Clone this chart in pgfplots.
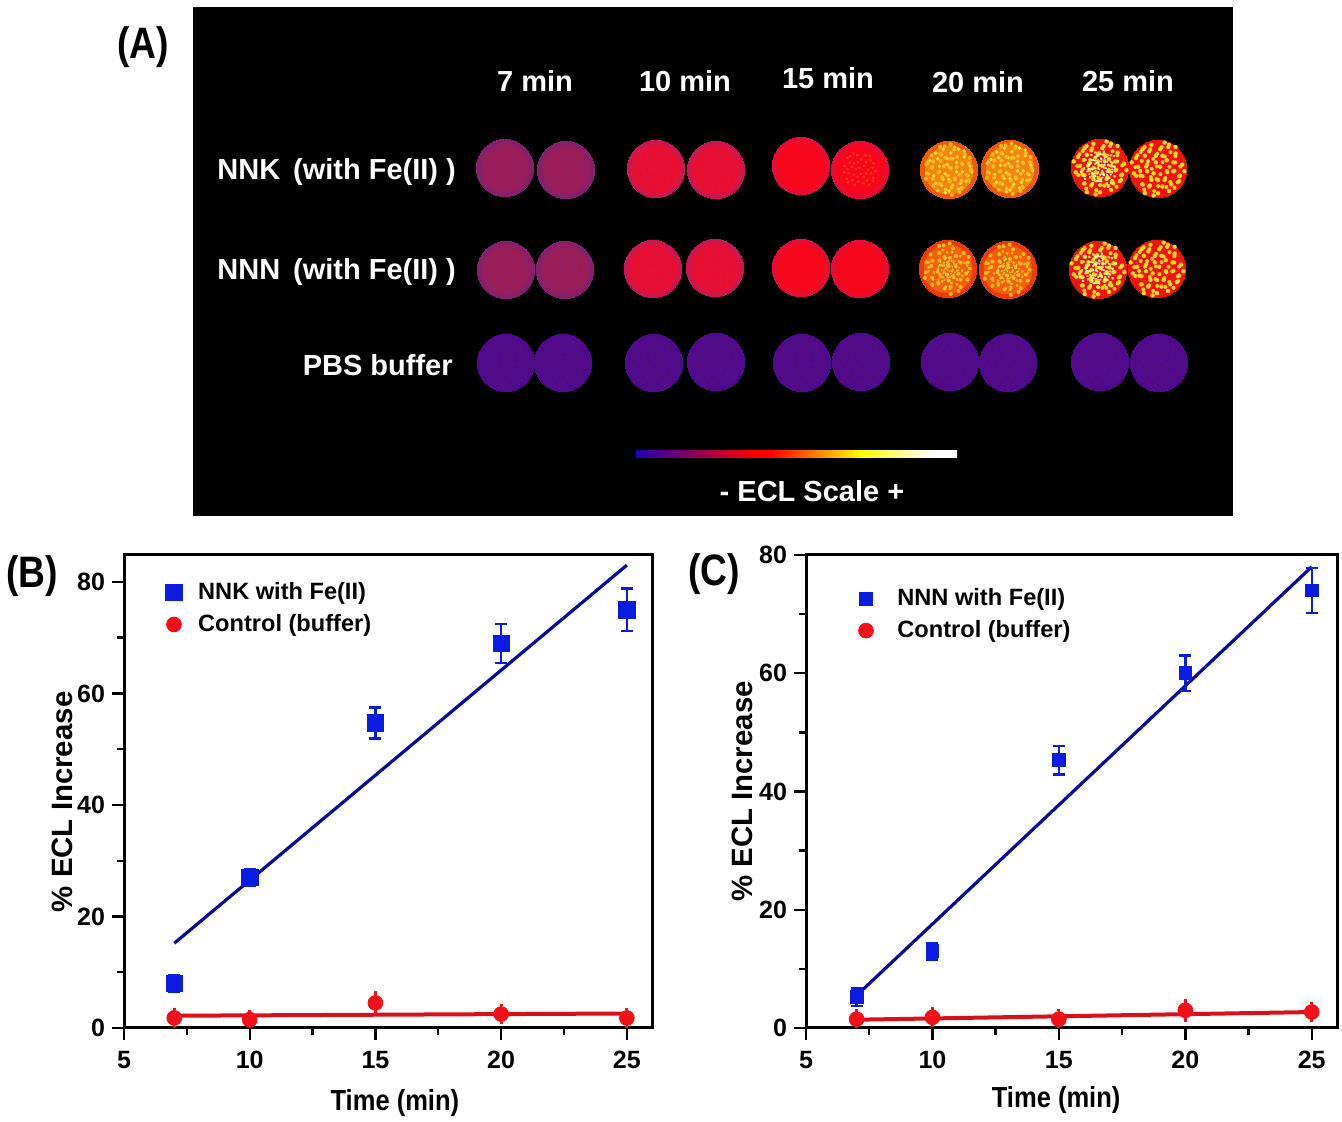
\documentclass[border=0pt]{standalone}
\usepackage{fontspec}
\setmainfont{Liberation Sans}
\usepackage{pgfplots}
\pgfplotsset{compat=1.18}

\definecolor{markblue}{HTML}{0A1CE0}
\definecolor{fitblue}{HTML}{0A0A9C}
\definecolor{markred}{HTML}{F0101A}
\definecolor{fitred}{HTML}{D8101A}
\definecolor{scaleblue}{HTML}{2000B0}

% heat map colours of panel A
\definecolor{sevenedge}{HTML}{86206C}
\definecolor{sevenmid}{HTML}{961E5C}
\definecolor{sevenhot}{HTML}{AC1A4C}
\definecolor{tenedge}{HTML}{CC1650}
\definecolor{tenmid}{HTML}{E41036}
\definecolor{tenhot}{HTML}{F20A26}
\definecolor{fifedge}{HTML}{E80C34}
\definecolor{fifmid}{HTML}{F8061C}
\definecolor{fifhot}{HTML}{F83A10}
\definecolor{twentybase}{HTML}{EE5A0C}
\definecolor{twentymid}{HTML}{F28410}
\definecolor{twentybaseb}{HTML}{EC3A0A}
\definecolor{twentymidb}{HTML}{F0600C}
\definecolor{twentyhot}{HTML}{F8B820}
\definecolor{twentypale}{HTML}{FCE040}
\definecolor{hotbase}{HTML}{EE1408}
\definecolor{hotyellow}{HTML}{FCD820}
\definecolor{hotpale}{HTML}{FFF890}
\definecolor{pbsbase}{HTML}{500A8C}
\definecolor{pbsspeck}{HTML}{5E0C78}

% colour scale of panel A
\pgfdeclarehorizontalshading{eclscale}{100bp}{
  color(0bp)=(scaleblue); color(25bp)=(scaleblue);
  color(43.5bp)=(red); color(46bp)=(red); color(60bp)=(yellow);
  color(71bp)=(white); color(100bp)=(white)}

% fixed speckle inside a spot, in pt around the centre
\pgfdeclareplotmark{speck}{%
  \foreach \sx/\sy in {-10/5,-8/-3,-7/9,-5/2,-4/-8,-3/11,-2/-2,-1/6,0/-11,1/1,
    1/9,3/-5,4/4,5/-10,5/11,7/-1,8/7,9/-6,11/2,-11/-2,-6/-11,2/-8,-6/6,-3/-5,
    4/-1,7/3,-9/1,-1/3,2/6,6/-7,10/-3,-4/8,-12/3,0/-5,-7/-7,3/12,-2/-12,8/10,
    12/-1,-5/-1}{%
    \pgfpathcircle{\pgfpoint{\sx pt}{\sy pt}}{1pt}%
    \pgfusepathqfill}%
}

\pgfplotsset{
  spot/.style={only marks, mark=*, mark size=14.3pt, mark options={draw=#1, line width=0pt, fill=#1}},
  glow/.style={only marks, mark=*, mark size=12pt, mark options={draw=#1, line width=0pt, fill=#1}},
  specks/.style n args={3}{only marks, mark=speck,
    mark options={draw=none, fill=#1, rotate=#2, scale=#3}},
  panel/.style={
    scale only axis, anchor=south west, xmin=5, xmax=26, ymin=0,
    xtick={5,10,15,20,25}, minor x tick num=1, minor y tick num=1,
    xtick pos=bottom, ytick pos=left, tick align=outside,
    axis line style={line width=1.5pt},
    tick style={line width=1.2pt, black},
    major tick length=6pt, minor tick length=3.75pt,
    /pgf/number format/assume math mode=true,
    tick label style={font=\fontsize{12.5}{15}\selectfont\bfseries},
    x tick label style={yshift=-2pt},
    xlabel={Time (min)}, ylabel={\% ECL Increase},
    legend cell align=left,
    legend style={draw=none, fill=none, row sep=2pt,
      font=\fontsize{11.8}{14}\selectfont\bfseries, anchor=north west},
  },
  fitline/.style={line width=#1, no marks, forget plot},
  sq/.style={only marks, mark=square*, mark size=#1, color=markblue,
    mark options={fill=markblue, draw=markblue},
    error bars/y dir=both, error bars/y explicit,
    error bars/error bar style={line width=1.2pt, markblue},
    error bars/error mark options={rotate=90, mark size=3pt, line width=1.2pt, markblue}},
  ci/.style={only marks, mark=*, mark size=3.7pt, color=markred,
    mark options={fill=markred, draw=markred},
    error bars/y dir=both, error bars/y explicit,
    error bars/error bar style={line width=1.2pt, markred},
    error bars/error mark options={rotate=90, mark size=.8pt, line width=1pt, markred}},
}

\begin{document}
\begin{tikzpicture}
\path[use as bounding box] (0,0) rectangle (671pt,561pt);

% panel A, in image pixels
\begin{axis}[
  at={(0,0)}, anchor=south west, scale only axis, width=671pt, height=561pt,
  xmin=0, xmax=1342, ymin=0, ymax=1122, y dir=reverse, hide axis, clip=false]
  \fill[black] (axis cs:193,7) rectangle (axis cs:1233,516);
  \shade[shading=eclscale] (axis cs:636,451) rectangle (axis cs:957,458);

  % 7 min
  \addplot[spot=sevenedge] coordinates {(505,168)(566,170)(506,270)(565,270)};
  \addplot[glow=sevenmid] coordinates {(505,168)(566,170)(506,270)(565,270)};
  \addplot[specks={sevenhot}{0}{.8}] coordinates {(505,168)(566,170)(506,270)(565,270)};
  % 10 min
  \addplot[spot=tenedge] coordinates {(656,169)(716,170)(653,269)(715,268)};
  \addplot[glow=tenmid] coordinates {(656,169)(716,170)(653,269)(715,268)};
  \addplot[specks={tenhot}{25}{.9}] coordinates {(656,169)(716,170)(653,269)(715,268)};
  % 15 min
  \addplot[spot=fifedge] coordinates {(801,166)(860,170)(801,268)(860,269)};
  \addplot[glow=fifmid] coordinates {(801,166)(860,170)(801,268)(860,269)};
  \addplot[specks={fifhot}{60}{.7}] coordinates {(860,170)};
  % 20 min
  \addplot[spot=twentybase] coordinates {(949,170)(1010,169)};
  \addplot[glow=twentymid] coordinates {(949,170)(1010,169)};
  \addplot[spot=twentybaseb] coordinates {(948,269)(1008,270)};
  \addplot[glow=twentymidb] coordinates {(948,269)(1008,270)};
  \addplot[specks={twentypale}{0}{.95}] coordinates {(949,170)(1010,169)};
  \addplot[specks={twentyhot}{35}{1}] coordinates {(949,170)(1010,169)(948,269)(1008,270)};
  \addplot[specks={twentyhot}{110}{.8}] coordinates {(948,269)(1008,270)};
  \addplot[specks={twentypale}{200}{.45}] coordinates {(948,269)(1008,270)};
  % 25 min
  \addplot[spot=hotbase] coordinates {(1100,168)(1158,169)(1098,270)(1157,269)};
  \addplot[specks={hotyellow}{0}{1.1}] coordinates {(1100,168)(1158,169)(1098,270)(1157,269)};
  \addplot[specks={hotyellow}{70}{1}] coordinates {(1100,168)(1158,169)(1098,270)(1157,269)};
  \addplot[specks={hotpale}{140}{.75}] coordinates {(1100,168)(1098,270)};
  \addplot[specks={white}{200}{.55}] coordinates {(1100,168)(1098,270)};
  % PBS buffer
  \addplot[spot=pbsbase] coordinates {(506,363)(563,363)(654,363)(716,362)(802,363)(861,362)(950,362)(1008,363)(1100,362)(1159,363)};
  \addplot[specks={pbsspeck}{0}{.9}] coordinates {(506,363)(563,363)(654,363)(716,362)(802,363)(861,362)(950,362)(1008,363)(1100,362)(1159,363)};

  \begin{scope}[every node/.style={white, font=\fontsize{14.5}{17}\selectfont\bfseries, inner sep=0pt}]
    \node at (axis cs:535,81) {7 min};
    \node at (axis cs:685,81) {10 min};
    \node at (axis cs:828,78) {15 min};
    \node at (axis cs:978,82) {20 min};
    \node at (axis cs:1128,81) {25 min};
    \node[anchor=west] at (axis cs:217,172) {NNK\, (with Fe(II) )};
    \node[anchor=west] at (axis cs:217,272) {NNN\, (with Fe(II) )};
    \node[anchor=east] at (axis cs:453,365) {PBS buffer};
    \node at (axis cs:812,491) {- ECL Scale +};
  \end{scope}
  \begin{scope}[every node/.style={black, font=\fontsize{20}{24}\selectfont\bfseries, inner sep=0pt, xscale=.93, yscale=1.1}]
    \node at (axis cs:143,47) {(A)};
    \node at (axis cs:32,576) {(B)};
    \node at (axis cs:714,574) {(C)};
  \end{scope}
\end{axis}

% panel B
\begin{axis}[panel,
  at={(62pt,47pt)}, width=264pt, height=237pt, ymax=85,
  ytick={0,20,40,60,80},
  x label style={at={(axis description cs:0.513,-0.158)}, anchor=center,
    font=\fontsize{14.5}{17}\selectfont\bfseries, xscale=.88},
  y label style={at={(axis description cs:-0.117,0.477)}, anchor=center,
    font=\fontsize{14.7}{18}\selectfont\bfseries},
  legend style={at={(axis description cs:0.067,0.958)}}]
  \addplot[fitline=1.6pt, fitblue] coordinates {(7,15.2) (25,83)};
  \addplot[fitline=2pt, fitred] coordinates {(7,2.2) (25,2.6)};
  \addplot[sq=4.1pt] coordinates {
    (7,8) +- (0,1.5)
    (10,27) +- (0,1.5)
    (15,54.7) +- (0,2.8)
    (20,69) +- (0,3.5)
    (25,75) +- (0,3.8)};
  \addplot[ci] coordinates {
    (7,1.8) +- (0,1.6)
    (10,1.5) +- (0,1.5)
    (15,4.5) +- (0,2)
    (20,2.5) +- (0,1.6)
    (25,1.8) +- (0,1.6)};
  \legend{\hspace{6pt}NNK with Fe(II),\hspace{6pt}Control (buffer)}
\end{axis}

% panel C
\begin{axis}[panel,
  at={(403pt,47pt)}, width=265.5pt, height=236.5pt, ymax=80,
  ytick={0,20,40,60,80},
  x label style={at={(axis description cs:0.471,-0.152)}, anchor=center,
    font=\fontsize{14.5}{17}\selectfont\bfseries, xscale=.88},
  y label style={at={(axis description cs:-0.12,0.50)}, anchor=center,
    font=\fontsize{14.7}{18}\selectfont\bfseries},
  legend style={at={(axis description cs:0.087,0.947)}}]
  \addplot[fitline=1.6pt, fitblue] coordinates {(7,5.5) (25,78)};
  \addplot[fitline=2pt, fitred] coordinates {(7,1.4) (25,2.7)};
  \addplot[sq=3.2pt] coordinates {
    (7,5.2) +- (0,1.5)
    (10,13) +- (0,1.4)
    (15,45.3) +- (0,2.4)
    (20,60) +- (0,3)
    (25,74) +- (0,3.8)};
  \addplot[ci] coordinates {
    (7,1.5) +- (0,1.5)
    (10,1.8) +- (0,1.5)
    (15,1.5) +- (0,1.5)
    (20,3) +- (0,1.8)
    (25,2.7) +- (0,1.6)};
  \legend{\hspace{10pt}NNN with Fe(II),\hspace{10pt}Control (buffer)}
\end{axis}
\end{tikzpicture}
\end{document}
